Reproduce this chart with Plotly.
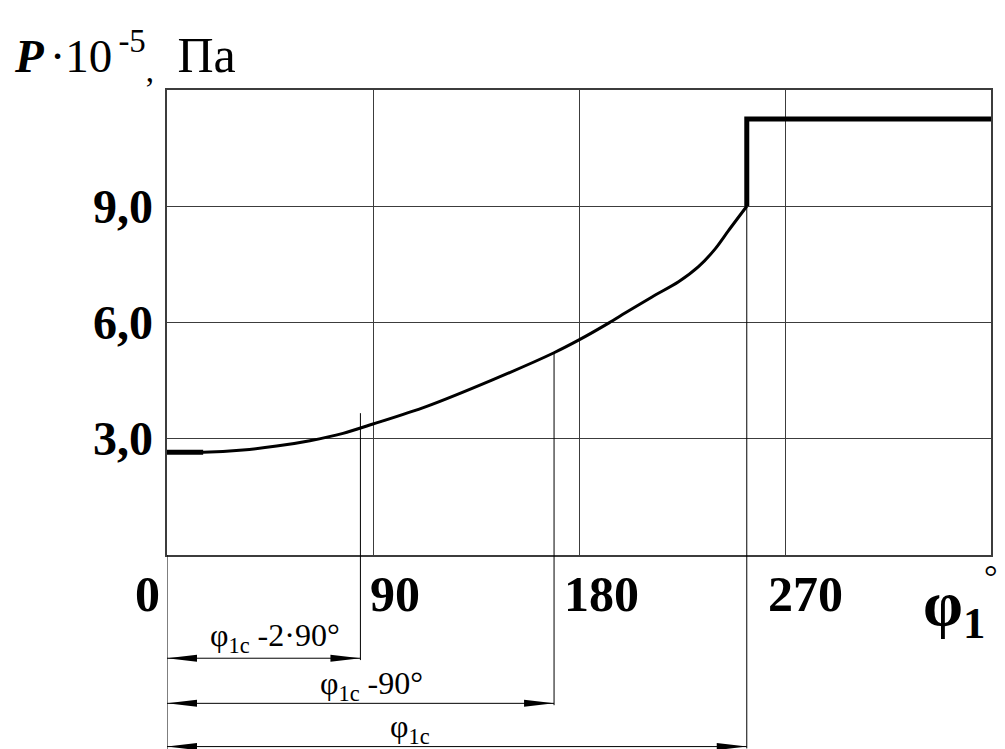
import plotly.graph_objects as go

# ---- data ----
phi_curve = [0, 15.8, 33.2, 47.9, 62.4, 76.9, 90, 113.2, 142.2, 169.1, 180, 193.1, 200.3, 211.9, 223.5, 232.2, 239.5, 245.3, 253.3]
p_curve = [2.65, 2.65, 2.71, 2.81, 2.95, 3.14, 3.38, 3.83, 4.52, 5.22, 5.55, 5.99, 6.25, 6.66, 7.05, 7.44, 7.90, 8.37, 9.0]
phi_step = [253.3, 253.3, 360]
p_step = [9.0, 11.25, 11.25]

x_ticks = [0, 90, 180, 270]
x_tick_labels = ["0", "90", "180", "270"]
x_tick_shift = [-20, 22, 22, 20]
y_ticks = [3, 6, 9]
y_tick_labels = ["3,0", "6,0", "9,0"]

# dimension lines: end angle, top value of extension line, label, label centre angle
dim_end = [84.5, 169.1, 253.3]
dim_top = [3.66, 5.21, 9.0]
dim_labels = ["φ<sub>1c</sub> -2·90°", "φ<sub>1c</sub> -90°", "φ<sub>1c</sub>"]
dim_label_x = [47.2, 89.3, 106.0]
dim_line_y = [-0.222, -0.319, -0.412]
dim_label_y = [-0.178, -0.280, -0.374]

Y_MAX = 12.0
SERIF = "Liberation Serif, Times New Roman, serif"
GRID = "#3c3c3c"

fig = go.Figure()
fig.add_trace(go.Scatter(x=phi_curve, y=p_curve, mode="lines",
                         line=dict(color="black", width=3, shape="spline", smoothing=0.8),
                         hoverinfo="skip", showlegend=False))
fig.add_trace(go.Scatter(x=phi_curve[:2], y=p_curve[:2], mode="lines",
                         line=dict(color="black", width=5),
                         hoverinfo="skip", showlegend=False))
fig.add_trace(go.Scatter(x=phi_step, y=p_step, mode="lines",
                         line=dict(color="black", width=5),
                         hoverinfo="skip", showlegend=False))

shapes = []
# left extension line below the axis
shapes.append(dict(type="line", xref="x", yref="paper", x0=0, x1=0, y0=0, y1=-0.45,
                   line=dict(color="black", width=1)))
for xe, top, yl in zip(dim_end, dim_top, dim_line_y):
    shapes.append(dict(type="line", xref="x", yref="paper", x0=xe, x1=xe,
                       y0=top / Y_MAX, y1=yl - 0.004, line=dict(color="black", width=1)))
    shapes.append(dict(type="line", xref="x", yref="paper", x0=0, x1=xe, y0=yl, y1=yl,
                       line=dict(color="black", width=1)))
    shapes.append(dict(type="path", xref="x", yref="paper", xsizemode="pixel", ysizemode="pixel",
                       xanchor=0, yanchor=yl, path="M0,0 L30,3.5 L30,-3.5 Z",
                       fillcolor="black", line=dict(width=0)))
    shapes.append(dict(type="path", xref="x", yref="paper", xsizemode="pixel", ysizemode="pixel",
                       xanchor=xe, yanchor=yl, path="M0,0 L-30,3.5 L-30,-3.5 Z",
                       fillcolor="black", line=dict(width=0)))

annotations = []
for xv, txt, sh in zip(x_ticks, x_tick_labels, x_tick_shift):
    annotations.append(dict(x=xv, y=-0.084, xref="x", yref="paper", text="<b>%s</b>" % txt,
                            showarrow=False, xshift=sh, xanchor="center", yanchor="middle",
                            font=dict(family=SERIF, size=50, color="black")))
for yv, txt in zip(y_ticks, y_tick_labels):
    annotations.append(dict(x=-0.014, y=yv, xref="paper", yref="y", text="<b>%s</b>" % txt,
                            showarrow=False, xanchor="right", yanchor="middle",
                            font=dict(family=SERIF, size=48, color="black")))
for xl, yl, txt in zip(dim_label_x, dim_label_y, dim_labels):
    annotations.append(dict(x=xl, y=yl, xref="x", yref="paper", text=txt,
                            showarrow=False, xanchor="center", yanchor="middle",
                            font=dict(family=SERIF, size=32, color="black")))
# axis titles
annotations.append(dict(x=0.955, y=-0.115, xref="paper", yref="paper",
                        text="<b>φ<sub>1</sub></b>", showarrow=False,
                        xanchor="center", yanchor="middle",
                        font=dict(family=SERIF, size=64, color="black")))
annotations.append(dict(x=1.0, y=-0.046, xref="paper", yref="paper",
                        text="°", showarrow=False,
                        xanchor="center", yanchor="middle",
                        font=dict(family=SERIF, size=34, color="black")))
thin = "<span style='font-size:24px'> </span>"
annotations.append(dict(x=-0.188, y=1.073, xref="paper", yref="paper",
                        text="<b><i>P</i></b>" + thin + "·10" + thin
                             + "<sup>-5</sup><sub>,</sub>  "
                             + "<span style='font-size:50px'>Па</span>",
                        showarrow=False, xanchor="left", yanchor="middle",
                        font=dict(family=SERIF, size=47, color="black")))

fig.update_layout(
    width=997, height=741,
    margin=dict(l=159, r=12, t=82, b=194),
    paper_bgcolor="white", plot_bgcolor="white",
    shapes=shapes, annotations=annotations, showlegend=False,
    xaxis=dict(range=[0, 360], tickvals=[90, 180, 270], showticklabels=False, ticks="",
               showgrid=True, gridcolor=GRID, gridwidth=1, zeroline=False,
               showline=True, linecolor=GRID, linewidth=1.5, mirror=True, fixedrange=True),
    yaxis=dict(range=[0, Y_MAX], tickvals=y_ticks, showticklabels=False, ticks="",
               showgrid=True, gridcolor=GRID, gridwidth=1, zeroline=False,
               showline=True, linecolor=GRID, linewidth=1.5, mirror=True, fixedrange=True),
)

fig.write_html("out.html")
